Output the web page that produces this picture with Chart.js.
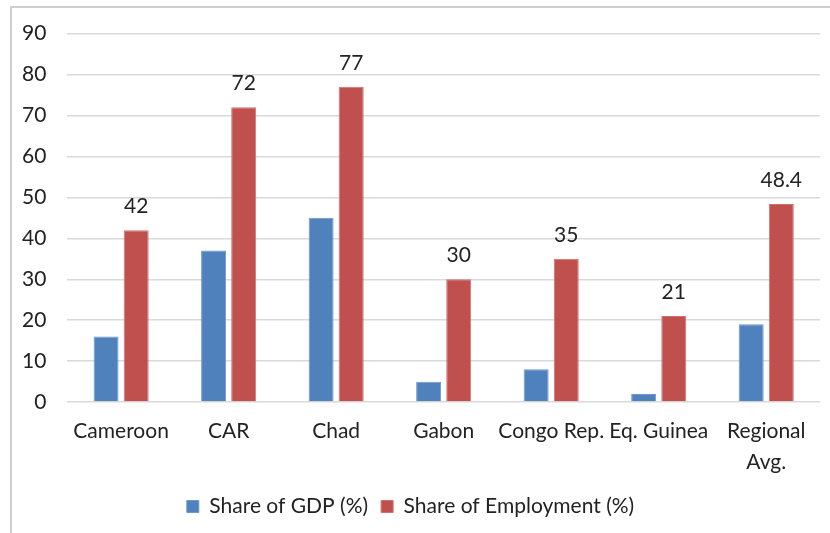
<!DOCTYPE html>
<html>
<head>
<meta charset="utf-8">
<script src="https://cdn.jsdelivr.net/npm/chart.js@4/dist/chart.umd.min.js"></script>
<style>
  html, body { margin: 0; padding: 0; background: #fff; }
  #wrap { width: 830px; height: 533px; }
</style>
</head>
<body>
<div id="wrap"><canvas id="sectorChart" width="830" height="533"></canvas></div>
<script>
// Categories and series
const countries = ['Cameroon', 'CAR', 'Chad', 'Gabon', 'Congo Rep.', 'Eq. Guinea', ['Regional', 'Avg.']];
const shareOfGdp = [16, 37, 45, 5, 8, 2, 19];
const shareOfEmployment = [42, 72, 77, 30, 35, 21, 48.4];
const yTicks = [0, 10, 20, 30, 40, 50, 60, 70, 80, 90];

const FONT = 'Lato, "Open Sans", sans-serif';
const TEXT = '#222222';

// Thin grey frame along the left and top edges
const framePlugin = {
  id: 'frame',
  beforeDraw(chart) {
    const ctx = chart.ctx;
    ctx.save();
    ctx.strokeStyle = '#cfcfcf';
    ctx.lineWidth = 2;
    ctx.beginPath();
    ctx.moveTo(11, chart.height);
    ctx.lineTo(11, 7);
    ctx.lineTo(chart.width, 7);
    ctx.stroke();
    ctx.restore();
  }
};

// Value labels above the employment bars
const valueLabels = {
  id: 'valueLabels',
  afterDatasetsDraw(chart) {
    const ctx = chart.ctx;
    const meta = chart.getDatasetMeta(1);
    const data = chart.data.datasets[1].data;
    ctx.save();
    ctx.font = '21px ' + FONT;
    ctx.fillStyle = TEXT;
    ctx.textAlign = 'center';
    ctx.textBaseline = 'alphabetic';
    meta.data.forEach((bar, i) => {
      ctx.fillText(String(data[i]), bar.x, bar.y - 17);
    });
    ctx.restore();
  }
};

new Chart(document.getElementById('sectorChart'), {
  type: 'bar',
  data: {
    labels: countries,
    datasets: [{
      label: 'Share of GDP (%)',
      data: shareOfGdp,
      backgroundColor: '#4f81bd',
      borderColor: '#6f97cb',
      borderWidth: 1,
      categoryPercentage: 0.56,
      barPercentage: 0.83
    }, {
      label: 'Share of Employment (%)',
      data: shareOfEmployment,
      backgroundColor: '#c0504d',
      borderColor: '#d07270',
      borderWidth: 1,
      categoryPercentage: 0.56,
      barPercentage: 0.83
    }]
  },
  options: {
    responsive: false,
    animation: false,
    layout: {
      padding: { left: 1, right: 10, top: 20, bottom: 6 }
    },
    plugins: {
      legend: {
        position: 'bottom',
        labels: {
          font: { size: 21, family: FONT },
          color: TEXT,
          boxWidth: 12,
          boxHeight: 12,
          padding: 13
        }
      },
      tooltip: { enabled: false }
    },
    scales: {
      y: {
        min: 0,
        max: 90,
        afterBuildTicks(axis) {
          axis.ticks = yTicks.map(v => ({ value: v }));
        },
        ticks: {
          font: { size: 21, family: FONT },
          color: TEXT,
          padding: 21
        },
        grid: {
          color: '#d9d9d9',
          lineWidth: 1.5,
          drawTicks: false
        },
        border: { display: false }
      },
      x: {
        ticks: {
          font: { size: 21, family: FONT, lineHeight: 1.45 },
          color: TEXT,
          padding: 6,
          maxRotation: 0,
          autoSkip: false
        },
        grid: { display: false },
        border: { display: false }
      }
    }
  },
  plugins: [framePlugin, valueLabels]
});
</script>
</body>
</html>
